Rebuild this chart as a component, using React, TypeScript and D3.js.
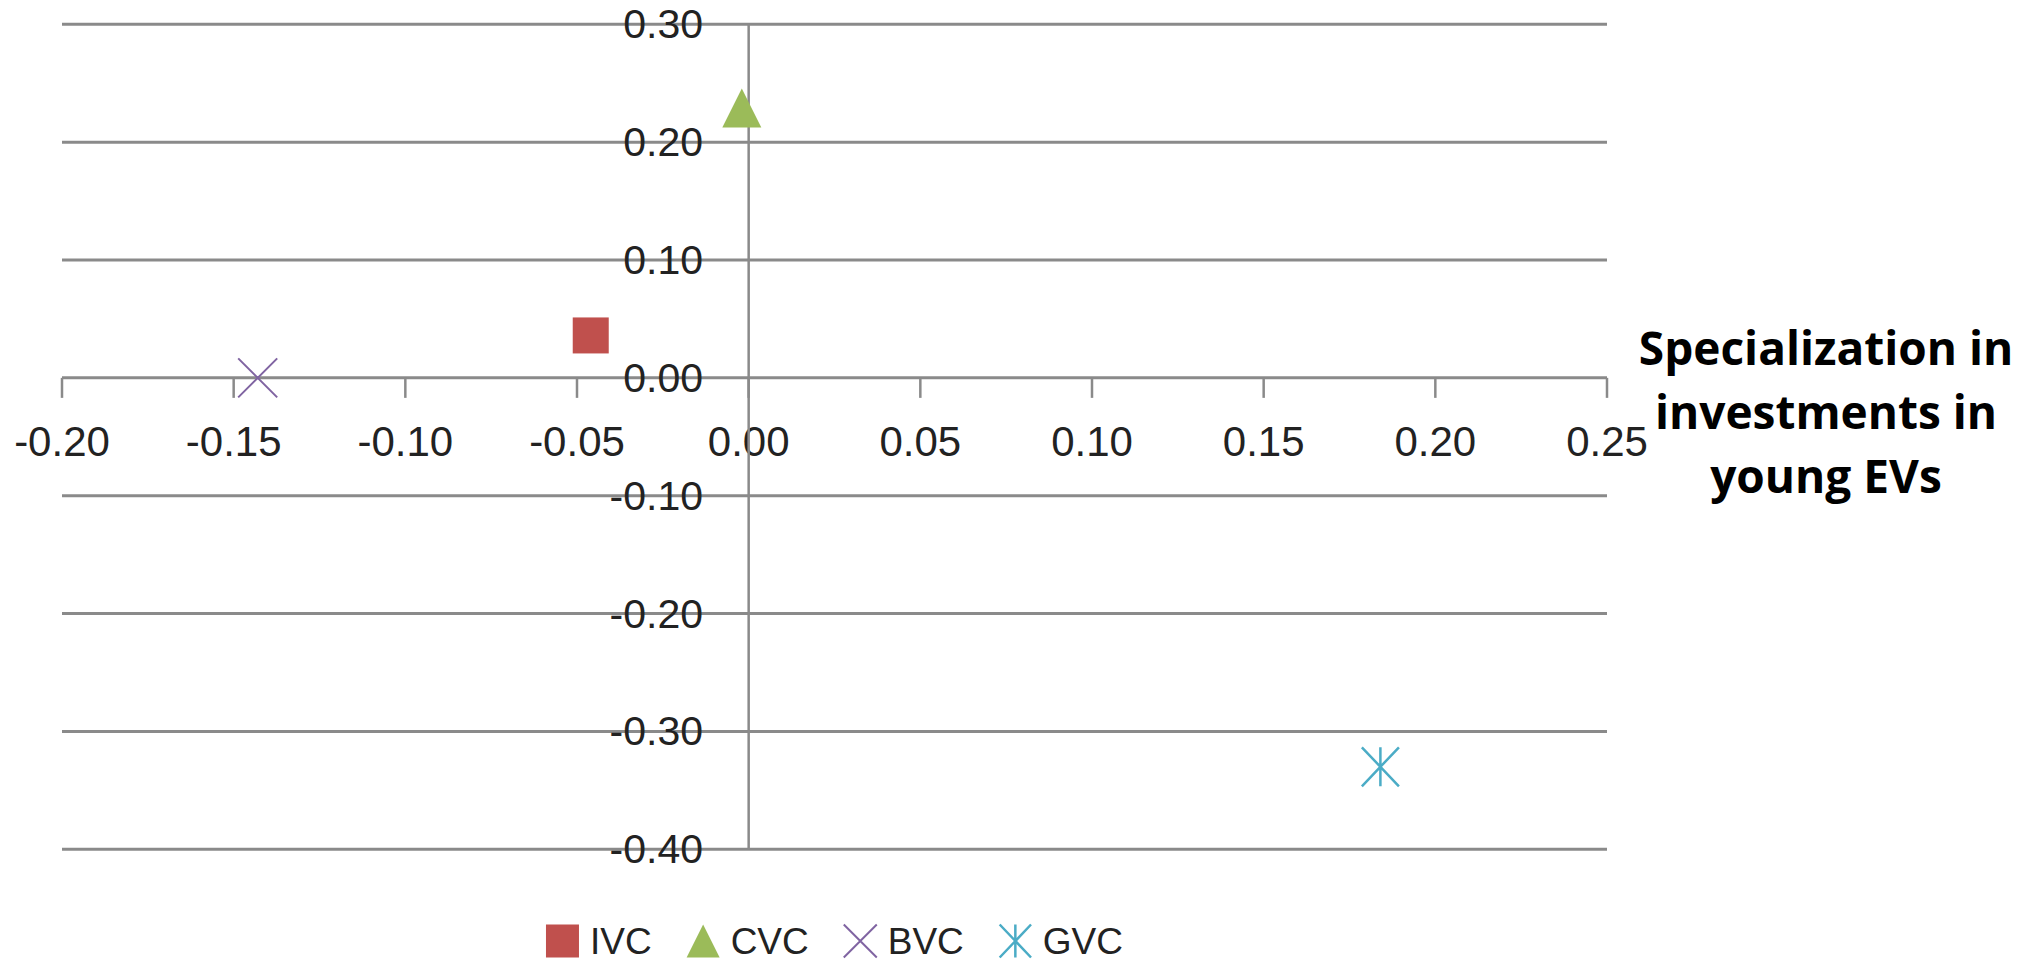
import React from "react";
import * as d3 from "d3";

// ---- data ----
const seriesNames = ["IVC", "CVC", "BVC", "GVC"];
const seriesX = [-0.046, -0.002, -0.143, 0.184];
const seriesY = [0.036, 0.229, 0.0, -0.33];
const xTickValues = [-0.2, -0.15, -0.1, -0.05, 0.0, 0.05, 0.1, 0.15, 0.2, 0.25];
const yTickValues = [-0.4, -0.3, -0.2, -0.1, 0.0, 0.1, 0.2, 0.3];
const titleLines = ["Specialization in", "investments in", "young EVs"];

// ---- style ----
const colors = ["#c0504d", "#9bbb59", "#8064a2", "#4bacc6"];
const shapes = ["square", "triangle", "x", "star"];
const W = 2028;
const H = 964;
const gridColor = "#8a8a8a";
const tickFont = "'Liberation Sans', Arial, sans-serif";

const fmt = (v: number) => d3.format(".2f")(v).replace("\u2212", "-");

function Marker({ shape, cx, cy, size, color }: { shape: string; cx: number; cy: number; size: number; color: string }) {
  const h = size / 2;
  if (shape === "square") {
    return <rect x={cx - h} y={cy - h} width={size} height={size} fill={color} />;
  }
  if (shape === "triangle") {
    return <path d={`M${cx},${cy - h}L${cx + h},${cy + h}L${cx - h},${cy + h}Z`} fill={color} />;
  }
  if (shape === "x") {
    return (
      <path
        d={`M${cx - h},${cy - h}L${cx + h},${cy + h}M${cx + h},${cy - h}L${cx - h},${cy + h}`}
        stroke={color}
        strokeWidth={2}
        fill="none"
      />
    );
  }
  const dx = h * 0.95;
  return (
    <path
      d={`M${cx},${cy - h}L${cx},${cy + h}M${cx - dx},${cy - h}L${cx + dx},${cy + h}M${cx + dx},${cy - h}L${cx - dx},${cy + h}`}
      stroke={color}
      strokeWidth={2.5}
      fill="none"
    />
  );
}

function measure(text: string, font: string): number {
  const c = document.createElement("canvas").getContext("2d");
  if (!c) return text.length * 20;
  c.font = font;
  return c.measureText(text).width;
}

export default function App() {
  const x = d3.scaleLinear().domain([-0.2, 0.25]).range([62, 1607]);
  const y = d3.scaleLinear().domain([-0.4, 0.3]).range([849.3, 24.3]);
  const [x0, x1] = x.range();

  // legend layout
  const legendFontSize = 37;
  const legendFont = `${legendFontSize}px 'Liberation Sans', Arial, sans-serif`;
  const mSize = 33;
  const mGap = 11;
  const itemGap = 35;
  const widths = seriesNames.map((n) => mSize + mGap + measure(n, legendFont));
  const total = d3.sum(widths) + itemGap * (seriesNames.length - 1);
  const legendStart = (x0 + x1) / 2 - total / 2;
  const offsets = widths.map((_, i) => legendStart + d3.sum(widths.slice(0, i)) + itemGap * i);
  const legendCy = 941;

  return (
    <svg
      width={W}
      height={H}
      style={{ position: "absolute", left: 0, top: 0, background: "#fff" }}
    >
      {/* horizontal gridlines */}
      {yTickValues.map((v) => (
        <line key={"g" + v} x1={x0} x2={x1} y1={y(v)} y2={y(v)} stroke={gridColor} strokeWidth={3} />
      ))}
      {/* x axis ticks */}
      {xTickValues.map((v) => (
        <line key={"t" + v} x1={x(v)} x2={x(v)} y1={y(0)} y2={y(0) + 20} stroke={gridColor} strokeWidth={2.5} />
      ))}
      {/* y tick labels */}
      {yTickValues.map((v) => (
        <text
          key={"yl" + v}
          x={703}
          y={y(v) + 14}
          textAnchor="end"
          fontFamily={tickFont}
          fontSize={41}
          fill="#222"
        >
          {fmt(v)}
        </text>
      ))}
      {/* x tick labels */}
      {xTickValues.map((v) => (
        <text
          key={"xl" + v}
          x={x(v)}
          y={456}
          textAnchor="middle"
          fontFamily={tickFont}
          fontSize={42}
          fill="#222"
        >
          {fmt(v)}
        </text>
      ))}
      {/* vertical axis */}
      <line x1={x(0)} x2={x(0)} y1={y(0.3)} y2={y(-0.4)} stroke={gridColor} strokeWidth={2.5} />

      {/* points */}
      {seriesNames.map((n, i) => (
        <Marker key={n} shape={shapes[i]} cx={x(seriesX[i])} cy={y(seriesY[i])} size={i === 0 ? 36 : 39} color={colors[i]} />
      ))}

      {/* axis title */}
      {titleLines.map((t, i) => (
        <text
          key={t}
          x={1826}
          y={365 + i * 64}
          textAnchor="middle"
          fontFamily="'Open Sans', sans-serif"
          fontWeight={700}
          fontSize={46}
          fill="#000"
        >
          {t}
        </text>
      ))}

      {/* legend */}
      {seriesNames.map((n, i) => (
        <g key={"lg" + n}>
          <Marker shape={shapes[i]} cx={offsets[i] + mSize / 2} cy={legendCy} size={mSize} color={colors[i]} />
          <text
            x={offsets[i] + mSize + mGap}
            y={legendCy + 13}
            fontFamily={tickFont}
            fontSize={legendFontSize}
            fill="#222"
          >
            {n}
          </text>
        </g>
      ))}
    </svg>
  );
}
